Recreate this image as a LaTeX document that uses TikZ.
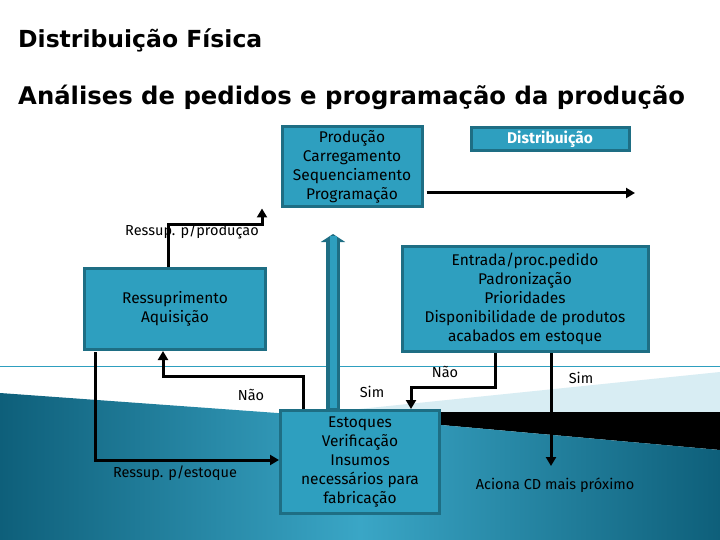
\documentclass[tikz,border=0pt]{standalone}
\usepackage{fontspec}
\setmainfont{Fira Sans}
\newfontfamily\titfont{DejaVu Sans}
\usetikzlibrary{arrows.meta}
\definecolor{boxf}{HTML}{2E9FBF}
\definecolor{boxd}{HTML}{1E6E84}
\definecolor{teal1}{HTML}{1B7F9E}
\definecolor{teal2}{HTML}{0E5F7A}
\definecolor{teal3}{HTML}{3AA6C6}
\definecolor{pale}{HTML}{D8EDF3}
\begin{document}
\begin{tikzpicture}[x=1pt,y=-1pt,
 box/.style={draw=boxd,line width=3pt,fill=boxf,align=center,font=\fontsize{15.5}{19}\selectfont,inner sep=0pt},
 con/.style={line width=3pt,-{Triangle[length=9pt,width=10pt]}},
 lab/.style={font=\fontsize{14.5}{17}\selectfont,inner sep=0pt}]
\useasboundingbox (0,0) rectangle (720,540);
\fill[white] (0,0) rectangle (720,540);
% background
\fill[pale] (330,412) -- (720,372) -- (720,412) -- cycle;
\fill[black] (430,412) -- (720,412) -- (720,450) -- (430,424) -- cycle;
\shade[left color=teal2,right color=teal2,middle color=teal3] (0,393) -- (430,424) -- (720,450) -- (720,540) -- (0,540) -- cycle;
\draw[boxf,line width=1pt] (0,366) -- (720,366);
% titles
\node[anchor=west,inner sep=0pt,font=\titfont\bfseries\fontsize{23.5}{28}\selectfont] (t1) at (18,40) {Distribuição Física};
\node[anchor=west,inner sep=0pt,font=\titfont\bfseries\fontsize{24.3}{28}\selectfont] (t2) at (18,97) {Análises de pedidos e programação da produção};
% boxes
\node[box,minimum width=140pt,minimum height=80pt] (prod) at (352,167) {Produção\\Carregamento\\Sequenciamento\\Programação};
\node[box,minimum width=158pt,minimum height=23pt,text=white,font=\bfseries\fontsize{15.5}{19}\selectfont] (dist) at (550,139) {Distribuição};
\node[box,minimum width=246pt,minimum height=105pt] (ent) at (525,299) {Entrada/proc.pedido\\Padronização\\Prioridades\\Disponibilidade de produtos\\acabados em estoque};
\node[box,minimum width=181pt,minimum height=81pt] (ress) at (175,309) {Ressuprimento\\Aquisição};
\node[box,minimum width=159pt,minimum height=103pt] (est) at (360,462) {Estoques\\Verificação\\Insumos\\necessários para\\fabricação};
% coordinates
\coordinate (dE) at (635,193);
\coordinate (aE) at (551,466);
% connectors
\draw[con] ([xshift=3pt]prod.east|-dE) -- (dE);
\draw[con] (ress.north-|168,0) |- (262,225) -- (prod.south-|262,0);
\draw[con] (95,352) |- (est.west|-0,460);
\draw[con] (est.north-|303,0) |- (163,376) -- (ress.south-|163,0);
\draw[con] (ent.south-|495,0) |- (411,387) -- (est.north-|411,0);
\draw[con] (ent.south-|551,0) -- (aE);
% big blue arrow
\draw[boxd,line width=14pt,-{Triangle[length=8pt,width=24pt]}] (333,412) -- (333,234);
\draw[boxf,line width=7pt] (333,408) -- (333,236);
% labels
\node[lab] (l1) at (192,231) {Ressup. p/produção};
\node[lab] (l2) at (251,395) {Não};
\node[lab] (l3) at (372,392) {Sim};
\node[lab] (l4) at (445,372) {Não};
\node[lab] (l5) at (581,378) {Sim};
\node[lab] (l6) at (175,473) {Ressup. p/estoque};
\node[lab] (l7) at (555,485) {Aciona CD mais próximo};
\end{tikzpicture}
\end{document}
